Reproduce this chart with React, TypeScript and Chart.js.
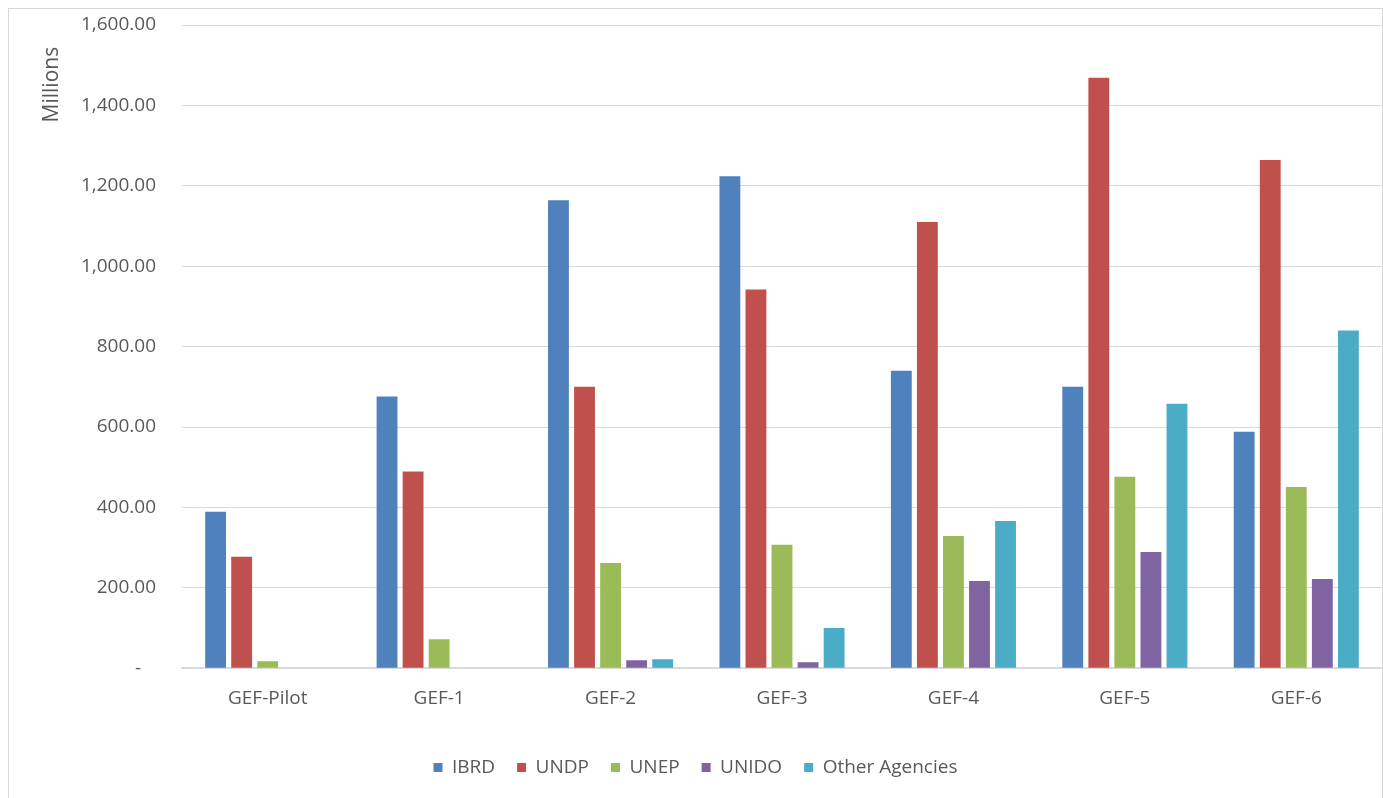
import React, { useEffect, useRef } from "react";
import { Chart, registerables } from "chart.js";

Chart.register(...registerables);

const categories = ["GEF-Pilot", "GEF-1", "GEF-2", "GEF-3", "GEF-4", "GEF-5", "GEF-6"];
const seriesNames = ["IBRD", "UNDP", "UNEP", "UNIDO", "Other Agencies"];
const ibrd = [389, 676, 1164, 1224, 740, 700, 588];
const undp = [277, 489, 700, 942, 1110, 1469, 1264];
const unep = [17, 72, 262, 307, 329, 476, 451];
const unido = [0, 0, 20, 15, 217, 289, 222];
const other = [0, 0, 22, 100, 366, 658, 840];
const colors = ["#4F81BD", "#C0504D", "#9BBB59", "#8064A2", "#4BACC6"];

const FONT = "'Open Sans', 'Noto Sans', sans-serif";
const TEXT = "#595959";

export default function App() {
  const ref = useRef<HTMLCanvasElement | null>(null);
  useEffect(() => {
    if (!ref.current) return;
    const values = [ibrd, undp, unep, unido, other];
    const chart = new Chart(ref.current, {
      type: "bar",
      data: {
        labels: categories,
        datasets: seriesNames.map((n, i) => ({
          label: n,
          data: values[i],
          backgroundColor: colors[i],
          borderWidth: 0,
          barPercentage: 0.8,
          categoryPercentage: 0.76,
        })),
      },
      options: {
        responsive: false,
        animation: false,
        layout: { padding: { top: 16, bottom: 11, left: 0, right: 0 } },
        plugins: {
          legend: {
            position: "bottom",
            labels: {
              boxWidth: 9,
              boxHeight: 9,
              padding: 22,
              color: TEXT,
              font: { family: FONT, size: 19 },
            },
          },
          tooltip: { enabled: false },
        },
        scales: {
          x: {
            grid: { display: false, drawTicks: false },
            border: { display: true, color: "#d9d9d9", width: 2 },
            ticks: { color: TEXT, font: { family: FONT, size: 19 }, padding: 19 },
            afterFit: (scale: any) => {
              scale.height += 7;
            },
          },
          y: {
            min: 0,
            max: 1600,
            grid: { color: "#d9d9d9", lineWidth: 1, drawTicks: true, tickLength: 26, tickColor: "rgba(0,0,0,0)" },
            border: { display: false },
            ticks: {
              stepSize: 200,
              padding: 0,
              color: TEXT,
              font: { family: FONT, size: 19 },
              callback: (v: any) =>
                Number(v) === 0
                  ? "-   "
                  : Number(v).toLocaleString("en-US", { minimumFractionDigits: 2, maximumFractionDigits: 2 }),
            },
            title: {
              display: true,
              text: "Millions    ",
              align: "end",
              color: TEXT,
              font: { family: FONT, size: 21 },
              padding: { top: 30, bottom: 0 },
            },
            afterFit: (scale: any) => {
              scale.width = 173;
            },
          },
        },
      },
    });
    return () => chart.destroy();
  }, []);

  return (
    <div
      style={{
        position: "absolute",
        left: 8,
        top: 8,
        width: 1375,
        height: 790,
        boxSizing: "border-box",
        borderTop: "1px solid #d9d9d9",
        borderLeft: "1px solid #d9d9d9",
        borderRight: "1px solid #d9d9d9",
        background: "#fff",
        overflow: "hidden",
      }}
    >
      <canvas ref={ref} width={1373} height={789} style={{ display: "block" }} />
    </div>
  );
}
